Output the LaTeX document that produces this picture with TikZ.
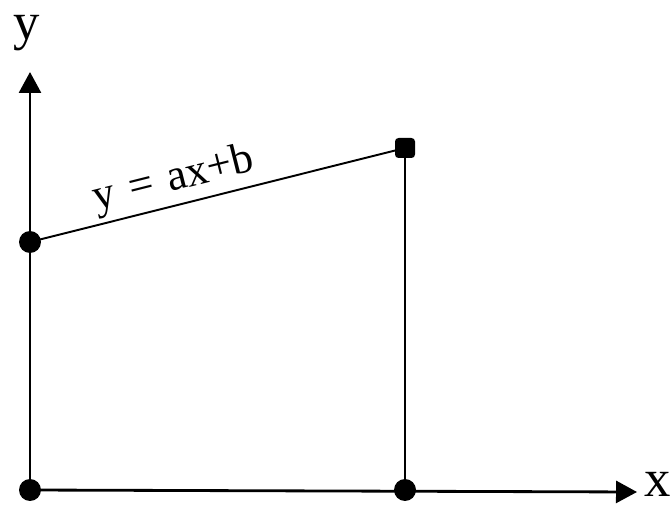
\documentclass[tikz,border=0pt]{standalone}
\usepackage{fontspec}
\setmainfont{Liberation Serif}
\usetikzlibrary{arrows.meta,positioning}

\begin{document}
\begin{tikzpicture}[
  x=0.02cm,y=-0.02cm,
  dotnode/.style={circle,fill=black,inner sep=0pt,minimum size=0.44cm},
  axisline/.style={line width=1.6pt,-{Triangle[length=0.42cm,width=0.44cm]}},
  graphline/.style={line width=1.1pt},
  axislabel/.style={font=\fontsize{30}{30}\selectfont},
]
  \useasboundingbox (0,0) rectangle (672,509);

  % points
  \node[dotnode] (o) at (30,490) {};
  \node[dotnode] (b) at (30,242) {};
  \node[dotnode,rectangle,rounded corners=2pt,minimum size=0.4cm] (p) at (405,148) {};
  \node[dotnode] (q) at (405,490) {};

  % axes
  \coordinate (ytip) at (30,72);
  \coordinate (xtip) at (637,492);
  \draw[axisline] (o.center) -- (ytip);
  \draw[axisline] (o.center) -- (xtip);
  \node[axislabel] (ylab) at (27,33) {y};
  \node[axislabel] (xlab) at (658,484) {x};

  % line and drop
  \draw[graphline] (b.center) -- (p.center)
    node[pos=0.4,above=-1pt,sloped,font=\fontsize{25}{25}\selectfont] (eq) {y\,\,=\,\,ax+b};
  \draw[graphline] (p.center) -- (q.center);
\end{tikzpicture}
\end{document}
